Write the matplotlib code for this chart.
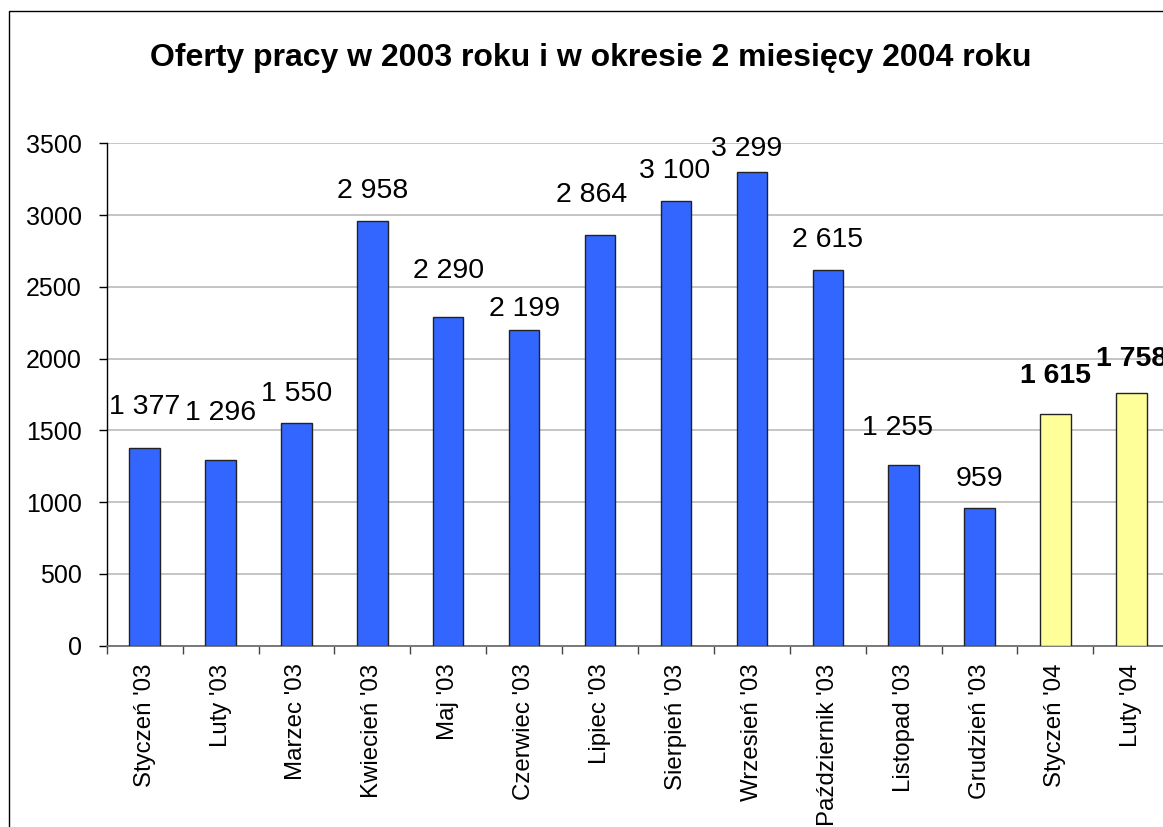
import matplotlib
matplotlib.use("Agg")
import matplotlib.pyplot as plt
from matplotlib.patches import Rectangle

plt.rcParams['font.family'] = ['Liberation Sans', 'DejaVu Sans']

categories = ["Styczeń '03", "Luty '03", "Marzec '03", "Kwiecień '03", "Maj '03",
              "Czerwiec '03", "Lipiec '03", "Sierpień '03", "Wrzesień '03",
              "Październik '03", "Listopad '03", "Grudzień '03", "Styczeń '04", "Luty '04"]
values = [1377, 1296, 1550, 2958, 2290, 2199, 2864, 3100, 3299, 2615, 1255, 959, 1615, 1758]
is_2004 = [False] * 12 + [True] * 2
# label offsets above bar tops (pixels), as placed in the original
label_offsets = [41, 47, 29, 30, 46, 21, 40, 30, 23, 30, 37, 29, 38, 34]
label_dx = [0, 0, 0, 0, 0, 0, -8, -1, -5, 0, -6, 0, 0, 0]

title = "Oferty pracy w 2003 roku i w okresie 2 miesięcy 2004 roku"
yticks = [0, 500, 1000, 1500, 2000, 2500, 3000, 3500]

W, H = 1163, 827
fig = plt.figure(figsize=(W / 100, H / 100), dpi=100)
fig.patch.set_facecolor('white')

# outer border of chart area
fig.add_artist(Rectangle((9 / W, -0.1), 1.2, (H - 11) / H + 0.1, transform=fig.transFigure,
                         fill=False, edgecolor='black', linewidth=1.0))

ax = fig.add_axes([106.7 / W, (H - 645.5) / H, 1062.6 / W, (645.5 - 143.3) / H])
ax.set_facecolor('white')

x = list(range(len(categories)))
colors = ['#FFFF99' if f else '#3366FF' for f in is_2004]
ax.bar(x, values, width=0.4, color=colors, edgecolor='#222222', linewidth=1.0, zorder=3)

for i, v in enumerate(values):
    txt = f"{v:,}".replace(",", " ")
    ax.annotate(txt, xy=(i, v), xytext=(label_dx[i], label_offsets[i]),
                textcoords='offset pixels', ha='center', va='center',
                fontsize=20.5, fontweight='bold' if is_2004[i] else 'normal',
                color='black', annotation_clip=False, zorder=4)

ax.set_xlim(-0.5, len(categories) - 0.5)
ax.set_ylim(0, 3500)
ax.set_yticks(yticks)
ax.set_yticklabels([str(t) for t in yticks], fontsize=18)
ax.yaxis.grid(True, color='#C0C0C0', linewidth=1.3, zorder=0)
ax.set_axisbelow(True)

ax.set_xticks(x)
ax.set_xticklabels(categories, rotation=90, fontsize=17.3)
ax.tick_params(axis='x', length=0, pad=13)
ax.set_xticks([i - 0.5 for i in range(len(categories) + 1)], minor=True)
ax.tick_params(axis='x', which='minor', length=6, width=1, color='#444444', direction='out')
ax.tick_params(axis='y', length=6, width=1, color='black', direction='out', pad=12)

for s in ['top', 'right']:
    ax.spines[s].set_visible(False)
ax.spines['left'].set_color('black')
ax.spines['left'].set_linewidth(1.0)
ax.spines['bottom'].set_color('#707070')
ax.spines['bottom'].set_linewidth(1.3)

fig.text(591 / W, 1 - 58 / H, title, ha='center', va='center',
         fontsize=23, fontweight='bold')

fig.savefig('out.png', dpi=100, facecolor='white')
